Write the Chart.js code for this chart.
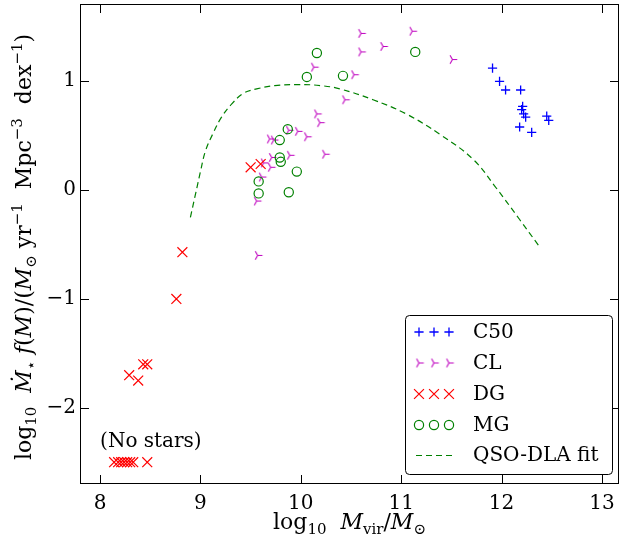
<!DOCTYPE html>
<html>
<head>
<meta charset="utf-8">
<script src="https://cdn.jsdelivr.net/npm/chart.js@4.4.1/dist/chart.umd.min.js"></script>
<style>
  html,body{margin:0;padding:0;background:#fff;}
  #c{display:block;}
</style>
</head>
<body>
<canvas id="c" width="620" height="544"></canvas>
<script>
// tick labels
const xTicks = [8, 9, 10, 11, 12, 13];
const yTicks = [-2, -1, 0, 1];

// C50
const c50X = [11.91, 11.98, 12.04, 12.19, 12.21, 12.20, 12.22, 12.24, 12.45, 12.47, 12.18, 12.30];
const c50Y = [1.12, 1.00, 0.92, 0.92, 0.77, 0.74, 0.70, 0.67, 0.68, 0.64, 0.58, 0.53];

// CL
const clX = [10.60, 11.11, 10.60, 10.82, 11.51, 10.13, 10.53, 10.44, 10.16, 10.19, 10.24, 9.88, 9.97, 10.06, 9.69, 9.73, 9.89, 9.71, 9.70, 9.63, 9.61, 9.56, 9.57];
const clY = [1.44, 1.46, 1.27, 1.32, 1.20, 1.13, 1.06, 0.83, 0.70, 0.62, 0.33, 0.55, 0.54, 0.49, 0.47, 0.46, 0.32, 0.30, 0.21, 0.25, 0.12, -0.10, -0.60];

// DG (the -2.5 row is "no stars")
const dgX = [8.82, 8.76, 8.29, 8.38, 8.43, 8.47, 9.50, 9.60, 8.14, 8.18, 8.21, 8.24, 8.27, 8.30, 8.33, 8.47];
const dgY = [-0.57, -1.00, -1.70, -1.75, -1.60, -1.60, 0.21, 0.24, -2.5, -2.5, -2.5, -2.5, -2.5, -2.5, -2.5, -2.5];

// MG
const mgX = [10.16, 10.06, 10.42, 11.14, 9.87, 9.79, 9.79, 9.80, 9.96, 9.58, 9.58, 9.88];
const mgY = [1.26, 1.04, 1.05, 1.27, 0.56, 0.46, 0.30, 0.26, 0.17, 0.08, -0.03, -0.02];

// QSO-DLA fit
const fitX = [8.90, 8.95, 9.00, 9.05, 9.13, 9.21, 9.31, 9.43, 9.56, 9.74, 9.98, 10.20, 10.39, 10.72, 11.05, 11.39, 11.72, 11.93, 12.18, 12.37];
const fitY = [-0.25, -0.04, 0.17, 0.36, 0.53, 0.67, 0.79, 0.89, 0.93, 0.96, 0.97, 0.96, 0.93, 0.83, 0.70, 0.51, 0.28, 0.04, -0.27, -0.51];

const FONT = '"DejaVu Serif", "Liberation Serif", serif';
function pts(xs, ys){ return xs.map((x,i)=>({x, y:ys[i]})); }

// tri_right marker
function triRight(color){
  const c = document.createElement("canvas"); c.width = 13; c.height = 13;
  const g = c.getContext("2d"), r = 4.8, m = 6.5;
  g.strokeStyle = color; g.lineWidth = 1.1;
  g.beginPath();
  g.moveTo(m, m); g.lineTo(m + r, m);
  g.moveTo(m, m); g.lineTo(m - r*0.5, m - r*0.866);
  g.moveTo(m, m); g.lineTo(m - r*0.5, m + r*0.866);
  g.stroke();
  return c;
}

// rich text: [text, kind] kind: 'r' roman, 'i' italic, 'b' sub, 'p' sup
function segFont(k){
  if (k==='i') return 'italic 22px ' + FONT;
  if (k==='b' || k==='p') return '15px ' + FONT;
  return '22px ' + FONT;
}
function richWidth(ctx, segs){
  let w = 0; segs.forEach(([t,k])=>{ ctx.font = segFont(k); w += ctx.measureText(t).width; }); return w;
}
function drawRich(ctx, segs, x, y){
  segs.forEach(([t,k])=>{
    ctx.font = segFont(k);
    const dy = k==='b' ? 5 : k==='p' ? -9 : 0;
    ctx.fillText(t, x, y + dy); x += ctx.measureText(t).width;
  });
}
const xTitle = [["log","r"],["10","b"],["  ","r"],["M","i"],["vir","b"],["/","r"],["M","i"],["\u2299","b"]];
const yTitle = [["log","r"],["10","b"],["  ","r"],["M\u0307","i"],["\u22c6","b"],[" ","r"],["f","i"],["(","r"],["M","i"],[")/(","r"],["M","i"],["\u2299","b"],[" yr","r"],["\u22121","p"],["  Mpc","r"],["\u22123","p"],["  dex","r"],["\u22121","p"],[")","r"]];

const datasets = [
  {label:"C50", data:pts(c50X,c50Y), pointStyle:"cross", pointRadius:4.6, borderColor:"#0000ff", backgroundColor:"#0000ff", pointBorderWidth:1.3, order:5},
  {label:"CL", data:pts(clX,clY), pointStyle:triRight("#bf00bf"), borderColor:"#bf00bf", backgroundColor:"#bf00bf", order:4},
  {label:"DG", data:pts(dgX,dgY), pointStyle:"crossRot", pointRadius:7, borderColor:"#ff0000", backgroundColor:"#ff0000", pointBorderWidth:1.2, order:3},
  {label:"MG", data:pts(mgX,mgY), pointStyle:"circle", pointRadius:4.6, borderColor:"#008000", backgroundColor:"rgba(0,0,0,0)", pointBorderWidth:1.2, order:2},
  {label:"QSO-DLA fit", type:"line", data:pts(fitX,fitY), showLine:true, pointRadius:0, borderColor:"#008000", borderWidth:1.2, borderDash:[6,4], tension:0.4, fill:false, order:1}
];

// plot box like the matplotlib figure: left 80, top 4, right 619, bottom 484
const BOX = {left:80, top:4, right:619, bottom:484};
const fixArea = {
  id:"fixArea",
  afterLayout(chart){
    const a = chart.chartArea, {x, y} = chart.scales;
    Object.assign(a, BOX, {width:BOX.right - BOX.left, height:BOX.bottom - BOX.top});
    Object.assign(x, {left:BOX.left, right:BOX.right, width:BOX.right - BOX.left, top:BOX.bottom, bottom:chart.height, height:chart.height - BOX.bottom});
    Object.assign(y, {left:0, right:BOX.left, width:BOX.left, top:BOX.top, bottom:BOX.bottom, height:BOX.bottom - BOX.top});
    x.configure(); y.configure();
  }
};

const TL = 9;
const decor = {
  id:"decor",
  afterDraw(chart){
    const { ctx, chartArea:a, scales:{x, y} } = chart;
    ctx.save();
    // frame + inward ticks on all sides
    ctx.strokeStyle = "#000"; ctx.lineWidth = 1;
    ctx.strokeRect(a.left + 0.5, a.top + 0.5, a.right - a.left - 1, a.bottom - a.top - 1);
    ctx.beginPath();
    xTicks.forEach(v=>{
      const px = Math.round(x.getPixelForValue(v)) + 0.5;
      ctx.moveTo(px, a.bottom); ctx.lineTo(px, a.bottom - TL);
      ctx.moveTo(px, a.top); ctx.lineTo(px, a.top + TL);
    });
    yTicks.forEach(v=>{
      const py = Math.round(y.getPixelForValue(v)) + 0.5;
      ctx.moveTo(a.left, py); ctx.lineTo(a.left + TL, py);
      ctx.moveTo(a.right, py); ctx.lineTo(a.right - TL, py);
    });
    ctx.stroke();

    ctx.fillStyle = "#000"; ctx.textBaseline = "alphabetic"; ctx.textAlign = "left";
    // annotation
    ctx.font = "20px " + FONT;
    ctx.fillText("(No stars)", x.getPixelForValue(8.0), y.getPixelForValue(-2.36));

    // axis titles
    const cx = (a.left + a.right) / 2;
    drawRich(ctx, xTitle, cx - richWidth(ctx, xTitle) / 2, 529);
    ctx.save();
    ctx.translate(31, (a.top + a.bottom) / 2 + 3);
    ctx.rotate(-Math.PI / 2);
    drawRich(ctx, yTitle, -richWidth(ctx, yTitle) / 2, 0);
    ctx.restore();

    // legend
    const L = {x0:405, y0:315, x1:612, y1:474, r:4};
    ctx.beginPath();
    ctx.roundRect(L.x0 + 0.5, L.y0 + 0.5, L.x1 - L.x0, L.y1 - L.y0, L.r);
    ctx.fillStyle = "#fff"; ctx.fill();
    ctx.strokeStyle = "#000"; ctx.lineWidth = 1; ctx.stroke();
    const rowY = [332, 363, 394, 425, 455];
    const mx = [419, 434, 449];
    chart.data.datasets.forEach((ds, i)=>{
      const yy = rowY[i];
      ctx.strokeStyle = ds.borderColor; ctx.fillStyle = ds.backgroundColor;
      if (ds.type === "line"){
        ctx.save(); ctx.lineWidth = ds.borderWidth; ctx.setLineDash(ds.borderDash);
        ctx.beginPath(); ctx.moveTo(416, yy + 0.5); ctx.lineTo(452, yy + 0.5); ctx.stroke(); ctx.restore();
      } else {
        ctx.lineWidth = ds.pointBorderWidth || 1;
        mx.forEach(px=> Chart.helpers.drawPoint(ctx, {pointStyle:ds.pointStyle, radius:ds.pointRadius || 4.6, rotation:0, borderWidth:ctx.lineWidth}, px, yy));
      }
      ctx.fillStyle = "#000"; ctx.font = "20px " + FONT; ctx.textBaseline = "middle";
      ctx.fillText(ds.label, 473, yy + 1);
    });
    ctx.restore();
  }
};

new Chart(document.getElementById("c"), {
  type:"scatter",
  data:{ datasets },
  options:{
    responsive:false, animation:false, devicePixelRatio:1, events:[],
    plugins:{ legend:{display:false}, tooltip:{enabled:false} },
    scales:{
      x:{
        type:"linear", min:7.8, max:13.17,
        grid:{display:false, drawTicks:false}, border:{display:false},
        ticks:{ font:{family:FONT, size:20}, color:"#000", padding:8, maxRotation:0 },
        afterBuildTicks:s=>{ s.ticks = xTicks.map(v=>({value:v})); }
      },
      y:{
        type:"linear", min:-2.7, max:1.71,
        grid:{display:false, drawTicks:false}, border:{display:false},
        ticks:{ font:{family:FONT, size:20}, color:"#000", padding:4,
          callback:v=> String(v).replace("-", "\u2212") },
        afterBuildTicks:s=>{ s.ticks = yTicks.map(v=>({value:v})); }
      }
    }
  },
  plugins:[fixArea, decor]
});
</script>
</body>
</html>
